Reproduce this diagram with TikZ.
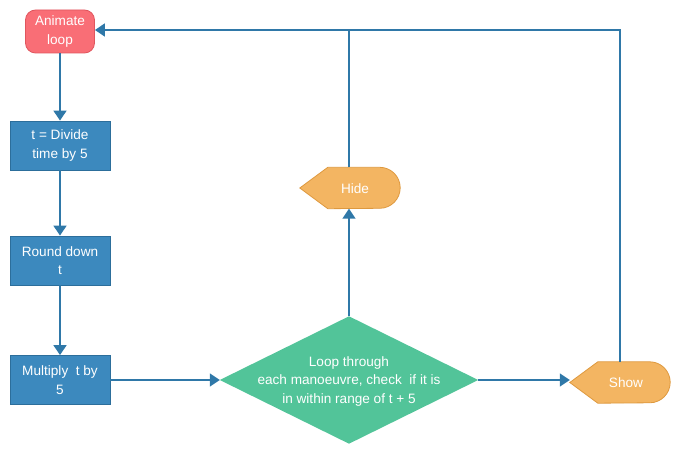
\documentclass[tikz,border=0pt]{standalone}
\usepackage{fontspec}
\setmainfont{Liberation Sans}
\usetikzlibrary{arrows.meta}
\definecolor{lineblue}{HTML}{2F78A8}
\definecolor{boxblue}{HTML}{3C89BE}
\definecolor{boxblueb}{HTML}{2C6E9B}
\definecolor{loopred}{HTML}{F96E76}
\definecolor{loopredb}{HTML}{E0565E}
\definecolor{dgreen}{HTML}{52C499}
\definecolor{dorange}{HTML}{F3B562}
\definecolor{dorangeb}{HTML}{DE993F}
\tikzset{
  txt/.style={text=white, font=\fontsize{13.6}{18.5}\selectfont, align=center},
  procbox/.style={txt, draw=boxblueb, fill=boxblue, line width=0.8pt, minimum width=100pt, minimum height=49pt, inner sep=0pt},
  startbox/.style={txt, draw=loopredb, fill=loopred, line width=0.8pt, rounded corners=10pt, minimum width=69pt, minimum height=43pt, inner sep=0pt},
  dispbox/.style={txt, minimum width=100pt, minimum height=41pt, inner sep=0pt},
  conn/.style={draw=lineblue, line width=1.6pt, -{Triangle[length=10pt,width=13pt]}},
  connplain/.style={draw=lineblue, line width=1.6pt},
  dispshape/.style={fill=dorange, draw=dorangeb, line width=0.8pt},
}
\begin{document}
\begin{tikzpicture}[x=1pt,y=-1pt]
\useasboundingbox (0,0) rectangle (680,454);
% nodes
\node[startbox] (loop) at (60,31.5) {Animate\\loop};
\node[procbox] (div) at (60,145.5) {t = Divide\\time by 5};
\node[procbox] (round) at (60,260.5) {Round down\\t};
\node[procbox] (mult) at (60,380) {Multiply\ \ t by\\5};
% diamond
\node[minimum width=258pt, minimum height=127pt, inner sep=0pt] (dec) at (349,380) {};
\fill[dgreen] (dec.north) -- (dec.east) -- (dec.south) -- (dec.west) -- cycle;
\node[txt] (dectext) at (349,381) {Loop through\\each manoeuvre, check\ \ if it is\\in within range of t + 5};
% hide display
\node[dispbox] (hide) at (350,188) {};
\draw[dispshape] (hide.west) -- ([xshift=28pt]hide.north west) -- ([xshift=-20.5pt]hide.north east)
  arc[start angle=90, end angle=-90, radius=20.5pt] -- ([xshift=28pt]hide.south west) -- cycle;
\node[txt] (hidetext) at (355,188.5) {Hide};
% show display
\node[dispbox] (show) at (620,382.5) {};
\draw[dispshape] (show.west) -- ([xshift=28pt]show.north west) -- ([xshift=-20.5pt]show.north east)
  arc[start angle=90, end angle=-90, radius=20.5pt] -- ([xshift=28pt]show.south west) -- cycle;
\node[txt] (showtext) at (626,383) {Show};
% connectors
\draw[conn] (loop.south) -- (div.north);
\draw[conn] (div.south) -- (round.north);
\draw[conn] (round.south) -- (mult.north);
\draw[conn] (mult.east) -- (dec.west);
\draw[conn] (dec.north) -- (hide.south -| dec.north);
\draw[conn] (dec.east) -- (dec.east -| show.west);
\coordinate (topright) at (620,30);
\coordinate (topmid) at (349,30);
\draw[connplain] (hide.north -| dec.north) -- (topmid);
\draw[conn] (show.north) -- (topright) -- (loop.east |- topright);
\end{tikzpicture}
\end{document}
